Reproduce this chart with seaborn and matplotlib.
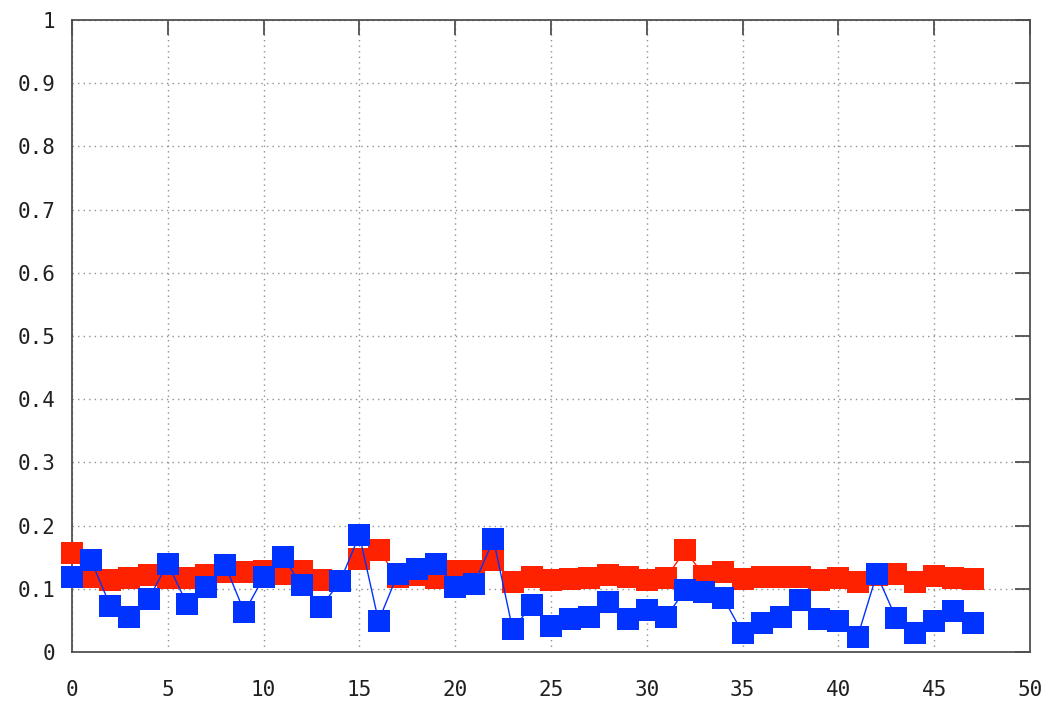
import matplotlib
matplotlib.use("Agg")
import matplotlib.pyplot as plt
import seaborn as sns
import pandas as pd

# Per-index values for the two series
index = list(range(48))
red_values = [0.156, 0.118, 0.114, 0.117, 0.122, 0.117, 0.117, 0.122, 0.127, 0.127,
              0.128, 0.123, 0.128, 0.114, 0.113, 0.147, 0.161, 0.118, 0.122, 0.117,
              0.128, 0.128, 0.145, 0.111, 0.119, 0.114, 0.115, 0.117, 0.122, 0.118,
              0.114, 0.117, 0.161, 0.120, 0.127, 0.115, 0.118, 0.118, 0.119, 0.114,
              0.117, 0.111, 0.122, 0.123, 0.111, 0.120, 0.117, 0.116]
blue_values = [0.118, 0.145, 0.073, 0.055, 0.084, 0.140, 0.076, 0.103, 0.137, 0.063,
               0.118, 0.150, 0.106, 0.071, 0.112, 0.185, 0.049, 0.123, 0.132, 0.140,
               0.103, 0.108, 0.178, 0.036, 0.074, 0.041, 0.052, 0.055, 0.079, 0.052,
               0.066, 0.055, 0.098, 0.095, 0.085, 0.030, 0.046, 0.055, 0.082, 0.052,
               0.049, 0.024, 0.123, 0.054, 0.030, 0.049, 0.065, 0.046]

x_ticks = [0, 5, 10, 15, 20, 25, 30, 35, 40, 45, 50]
y_ticks = [0, 0.1, 0.2, 0.3, 0.4, 0.5, 0.6, 0.7, 0.8, 0.9, 1]
y_tick_labels = ["0", "0.1", "0.2", "0.3", "0.4", "0.5", "0.6", "0.7", "0.8", "0.9", "1"]

sns.set_style("white")
plt.rcParams["font.family"] = ["DejaVu Sans Mono"]

df_red = pd.DataFrame({"x": index, "y": red_values})
df_blue = pd.DataFrame({"x": index, "y": blue_values})

fig = plt.figure(figsize=(10.55, 7.07), dpi=100)
ax = fig.add_axes([0.0682, 0.0778, 0.9081, 0.894])

red = "#ff2200"
blue = "#0033ff"
sns.lineplot(data=df_red, x="x", y="y", ax=ax, color=red, linewidth=1.0,
             marker="s", markersize=15.5, markeredgewidth=0, markerfacecolor=red,
             zorder=3, clip_on=False)
sns.lineplot(data=df_blue, x="x", y="y", ax=ax, color=blue, linewidth=1.0,
             marker="s", markersize=15.5, markeredgewidth=0, markerfacecolor=blue,
             zorder=4, clip_on=False)

ax.set_xlim(0, 50)
ax.set_ylim(0, 1)
ax.set_xticks(x_ticks)
ax.set_xticklabels([str(t) for t in x_ticks])
ax.set_yticks(y_ticks)
ax.set_yticklabels(y_tick_labels)
ax.set_xlabel("")
ax.set_ylabel("")

ax.grid(True, color="#909090", linestyle=(0, (1, 3)), linewidth=1.0)
ax.set_axisbelow(True)
for side in ax.spines.values():
    side.set_color("#505050")
    side.set_linewidth(1.3)
ax.tick_params(axis="both", which="major", direction="in", length=11, width=1.3,
               color="#505050", top=True, right=True, labelsize=15, labelcolor="#202020")
ax.tick_params(axis="x", pad=20)
ax.tick_params(axis="y", pad=12)

fig.savefig("out.png", dpi=100)
